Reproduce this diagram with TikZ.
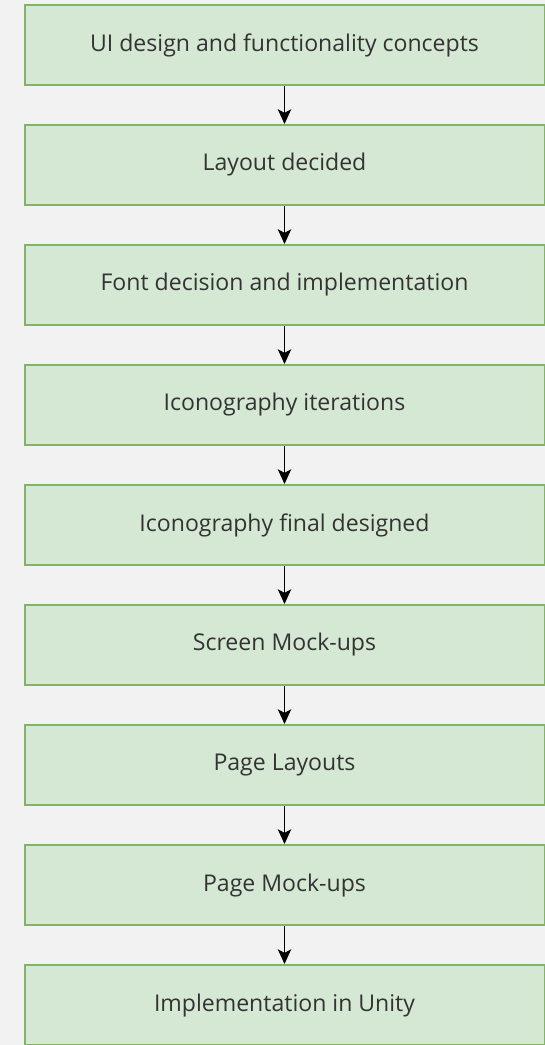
\documentclass[tikz,border=0pt]{standalone}
\usepackage{fontspec}
\setmainfont{Open Sans}
\usetikzlibrary{arrows.meta}
\definecolor{bgc}{HTML}{F2F2F2}
\definecolor{boxfill}{HTML}{D5E8D4}
\definecolor{boxline}{HTML}{82B366}
\definecolor{txt}{HTML}{333333}
% one drawing unit = one screen pixel = 0.75pt
\tikzset{
  stepbox/.style={draw=boxline, fill=boxfill, line width=1.5pt,
    minimum width=390pt, minimum height=60pt, inner sep=0pt,
    text=txt, font=\fontsize{17.3pt}{20pt}\selectfont},
  flow/.style={draw=black, line width=1.2pt,
    -{Stealth[length=11pt, width=10pt, inset=2.6pt]}}
}
\begin{document}
\begin{tikzpicture}[x=0.75pt, y=-0.75pt]
\useasboundingbox (0,0) rectangle (545,1045);
\fill[bgc] (0,0) rectangle (545,1045);
\begin{scope}
\clip (0,0) rectangle (545,1045);
\node[stepbox] (s1) at (284.5,45)  {UI design and functionality concepts};
\node[stepbox] (s2) at (284.5,165) {Layout decided};
\node[stepbox] (s3) at (284.5,285) {Font decision and implementation};
\node[stepbox] (s4) at (284.5,405) {Iconography iterations};
\node[stepbox] (s5) at (284.5,525) {Iconography final designed};
\node[stepbox] (s6) at (284.5,645) {Screen Mock-ups};
\node[stepbox] (s7) at (284.5,765) {Page Layouts};
\node[stepbox] (s8) at (284.5,885) {Page Mock-ups};
\node[stepbox] (s9) at (284.5,1005) {Implementation in Unity};
\foreach \a/\b in {s1/s2,s2/s3,s3/s4,s4/s5,s5/s6,s6/s7,s7/s8,s8/s9}
  \draw[flow] (\a.south) -- (\b.north);
\end{scope}
\end{tikzpicture}
\end{document}
